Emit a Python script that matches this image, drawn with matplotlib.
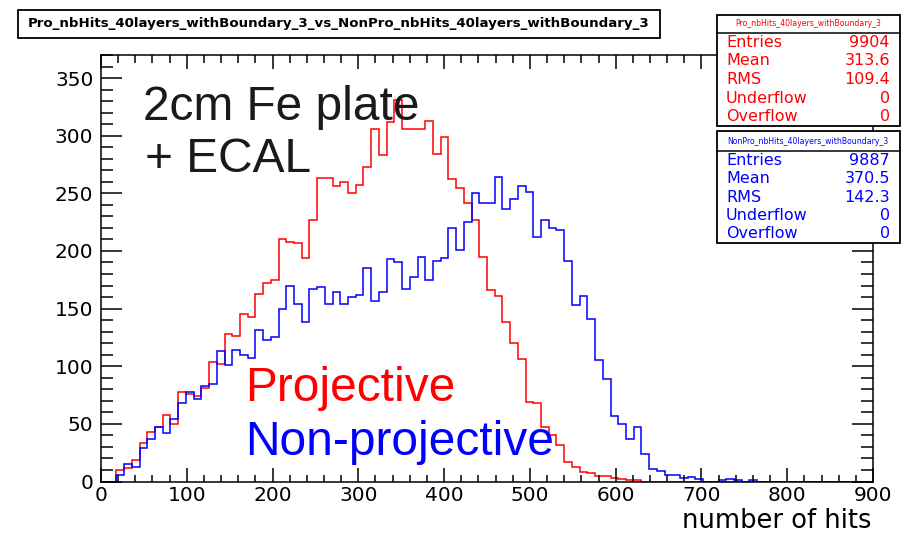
import numpy as np
import matplotlib.pyplot as plt
from matplotlib.patches import Rectangle
from matplotlib.ticker import MultipleLocator

# -----------------------------
# data: number of hits, 100 bins over 0-900
# -----------------------------
X_MIN, X_MAX, N_BINS = 0, 900, 100
Y_MAX = 370

proj_counts = [
    0, 0, 10, 12, 19, 33, 43, 47, 58, 50,
    78, 76, 74, 81, 104, 102, 128, 126, 145, 143,
    163, 172, 175, 210, 208, 207, 194, 227, 263, 263,
    256, 260, 250, 257, 273, 306, 283, 312, 331, 306,
    306, 306, 313, 284, 299, 262, 255, 242, 227, 195,
    166, 161, 138, 120, 106, 69, 68, 47, 40, 32,
    17, 13, 8, 7, 5, 5, 3, 2, 1, 1,
]
nonproj_counts = [
    0, 0, 6, 15, 13, 29, 37, 47, 42, 54,
    68, 78, 72, 83, 85, 113, 101, 114, 110, 107,
    131, 123, 125, 150, 170, 154, 138, 167, 169, 154,
    164, 154, 160, 162, 185, 157, 164, 193, 190, 167,
    177, 195, 175, 191, 194, 220, 201, 225, 250, 242,
    242, 264, 236, 245, 256, 251, 212, 227, 220, 218,
    191, 153, 161, 141, 105, 89, 57, 50, 37, 47,
    24, 11, 9, 6, 6, 3, 4, 2, 0, 0,
    1, 2, 1, 0, 1,
]

proj_name = "Pro_nbHits_40layers_withBoundary_3"
nonproj_name = "NonPro_nbHits_40layers_withBoundary_3"
stat_labels = ["Entries", "Mean", "RMS", "Underflow", "Overflow"]
proj_stats = ["9904", "313.6", "109.4", "0", "0"]
nonproj_stats = ["9887", "370.5", "142.3", "0", "0"]

RED = "#ff0000"
BLUE = "#0000ff"
ROOT_FONT = "DejaVu Sans"
PPT_FONT = "Liberation Sans"

W, H = 906, 536


def fx(px):
    return px / W


def fy(py):
    return 1 - py / H


def pad(counts):
    return np.array(counts + [0] * (N_BINS - len(counts)), dtype=float)


edges = np.linspace(X_MIN, X_MAX, N_BINS + 1)

fig = plt.figure(figsize=(W / 100, H / 100), dpi=100)
ax = fig.add_axes([fx(101), fy(481.5), fx(873) - fx(101), fy(55) - fy(481.5)])

ax.stairs(pad(proj_counts), edges, color=RED, lw=1.1)
ax.stairs(pad(nonproj_counts), edges, color=BLUE, lw=1.1)

ax.set_xlim(X_MIN, X_MAX)
ax.set_ylim(0, Y_MAX)
ax.xaxis.set_major_locator(MultipleLocator(100))
ax.xaxis.set_minor_locator(MultipleLocator(20))
ax.yaxis.set_major_locator(MultipleLocator(50))
ax.yaxis.set_minor_locator(MultipleLocator(10))
ax.tick_params(which="both", direction="in", top=True, right=True, width=1.1,
               labelsize=14.5, colors="black")
ax.tick_params(axis="x", which="major", length=10, pad=3)
ax.tick_params(axis="x", which="minor", length=5.4)
ax.tick_params(axis="y", which="major", length=15, pad=5.5)
ax.tick_params(axis="y", which="minor", length=8.4)
for lab in ax.get_xticklabels() + ax.get_yticklabels():
    lab.set_family(ROOT_FONT)
for sp in ax.spines.values():
    sp.set_linewidth(1.1)

fig.text(fx(872), fy(528), "number of hits", ha="right", va="baseline",
         fontsize=18.5, family=ROOT_FONT)

# title box
fig.add_artist(Rectangle((fx(18), fy(38)), fx(660) - fx(18), fy(10) - fy(38),
                         transform=fig.transFigure, facecolor="white",
                         edgecolor="black", lw=1.3))
fig.text(fx(339), fy(24), f"{proj_name}_vs_{nonproj_name}", ha="center",
         va="center", fontsize=9.6, weight="bold", family=ROOT_FONT)


def stat_box(top, bottom, sep, name, values, color):
    fig.add_artist(Rectangle((fx(717), fy(bottom)), fx(900) - fx(717),
                             fy(top) - fy(bottom), transform=fig.transFigure,
                             facecolor="white", edgecolor="black", lw=1.3,
                             zorder=5))
    fig.add_artist(plt.Line2D([fx(717), fx(900)], [fy(sep), fy(sep)],
                              transform=fig.transFigure, color="black",
                              lw=1.1, zorder=6))
    fig.text(fx(808), fy((top + sep) / 2), name, ha="center", va="center",
             fontsize=5.6, color=color, family=ROOT_FONT, zorder=7)
    row_h = (bottom - sep) / len(values)
    for k, (lab, val) in enumerate(zip(stat_labels, values)):
        yy = fy(sep + row_h * (k + 0.5))
        fig.text(fx(726), yy, lab, ha="left", va="center", fontsize=11.5,
                 color=color, family=ROOT_FONT, zorder=7)
        fig.text(fx(890), yy, val, ha="right", va="center", fontsize=11.5,
                 color=color, family=ROOT_FONT, zorder=7)


stat_box(15, 126, 33, proj_name, proj_stats, RED)
stat_box(131, 243, 151, nonproj_name, nonproj_stats, BLUE)

# annotations
fig.text(fx(143), fy(120), "2cm Fe plate", fontsize=34.5, family=PPT_FONT,
         color="#1a1a1a", va="baseline")
fig.text(fx(145), fy(172), "+ ECAL", fontsize=34.5, family=PPT_FONT,
         color="#1a1a1a", va="baseline")
fig.text(fx(245), fy(401), "Projective", fontsize=34.5, family=PPT_FONT,
         color=RED, va="baseline")
fig.text(fx(245), fy(455), "Non-projective", fontsize=34.5, family=PPT_FONT,
         color=BLUE, va="baseline")

fig.savefig("out.png", dpi=100)
